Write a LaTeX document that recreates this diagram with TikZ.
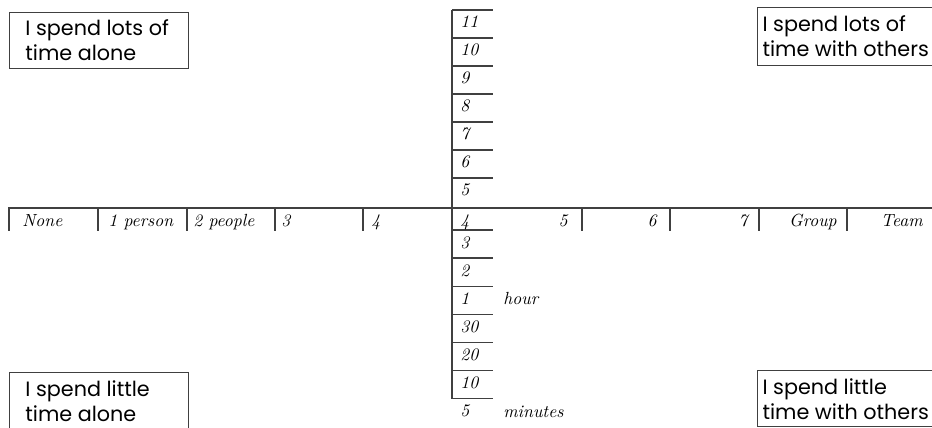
\documentclass[tikz,border=0pt]{standalone}
\usepackage{fontspec}
\newfontfamily\quadfont{Poppins}
\usetikzlibrary{positioning}
\tikzset{
  axisline/.style={line width=0.8pt, draw=black!75},
  quadbox/.style={draw=black!75, line width=0.7pt, anchor=north west, align=flush left, inner ysep=0pt, font=\quadfont\fontsize{11.8}{14.2}\selectfont},
  handlabel/.style={font=\itshape\fontsize{10}{11}\selectfont, inner sep=0pt, anchor=base west},
  handright/.style={handlabel, anchor=base east}
}

\begin{document}
\begin{tikzpicture}[x=0.02cm, y=-0.02cm]
  \useasboundingbox (0,0) rectangle (932,427);

  % corner boxes
  \node[quadbox, inner xsep=9pt, text width=84pt, minimum height=31.9pt] (lotsalone) at (9,12) {I spend lots of\\time alone};
  \node[quadbox, inner xsep=2.8pt, text width=120pt, minimum height=33pt] (lotsothers) at (757,7) {I spend lots of\\time with others};
  \node[quadbox, inner xsep=9pt, text width=84pt, minimum height=33pt] (littlealone) at (9,372) {I spend little\\time alone};
  \node[quadbox, inner xsep=2.8pt, text width=120pt, minimum height=32pt] (littleothers) at (757,370) {I spend little\\time with others};

  % axes
  \draw[axisline] (8,208) -- (932,208);
  \draw[axisline] (452,10) -- (452,399);
  \foreach \x in {9,98,187,275,363,582,670,759,847}
    \draw[axisline] (\x,208) -- (\x,231);
  \foreach \k in {0,...,6}
    \draw[axisline] (452,{10+28*\k}) -- ++(41,0);
  \foreach \k in {0,...,6}
    \draw[axisline] (452,{230+28.1*\k}) -- ++(41,0);

  % people along the line
  \node[handlabel] (none) at (22,226) {None};
  \node[handlabel] (oneperson) at (108,226) {1 person};
  \node[handlabel] (twopeople) at (193,226) {2 people};
  \node[handlabel] (three) at (281,226) {3};
  \node[handlabel] (four) at (371,226) {4};
  \node[handlabel] (mid) at (460,226) {4};
  \node[handright] (five) at (568,226) {5};
  \node[handright] (six) at (657,226) {6};
  \node[handright] (seven) at (748,226) {7};
  \node[handright] (group) at (837,226) {Group};
  \node[handright] (team) at (923,226) {Team};

  % time up the line
  \foreach \lab [count=\k from 0] in {11,10,9,8,7,6,5}
    \node[handlabel] (up\k) at (460,{27+28*\k}) {\lab};
  \foreach \lab [count=\k from 0] in {3,2,1,30,20,10,5}
    \node[handlabel] (down\k) at (460,{248+28.1*\k}) {\lab};
  \node[handlabel] (hour) at (503,304) {hour};
  \node[handlabel] (minutes) at (503,417) {minutes};
\end{tikzpicture}
\end{document}
